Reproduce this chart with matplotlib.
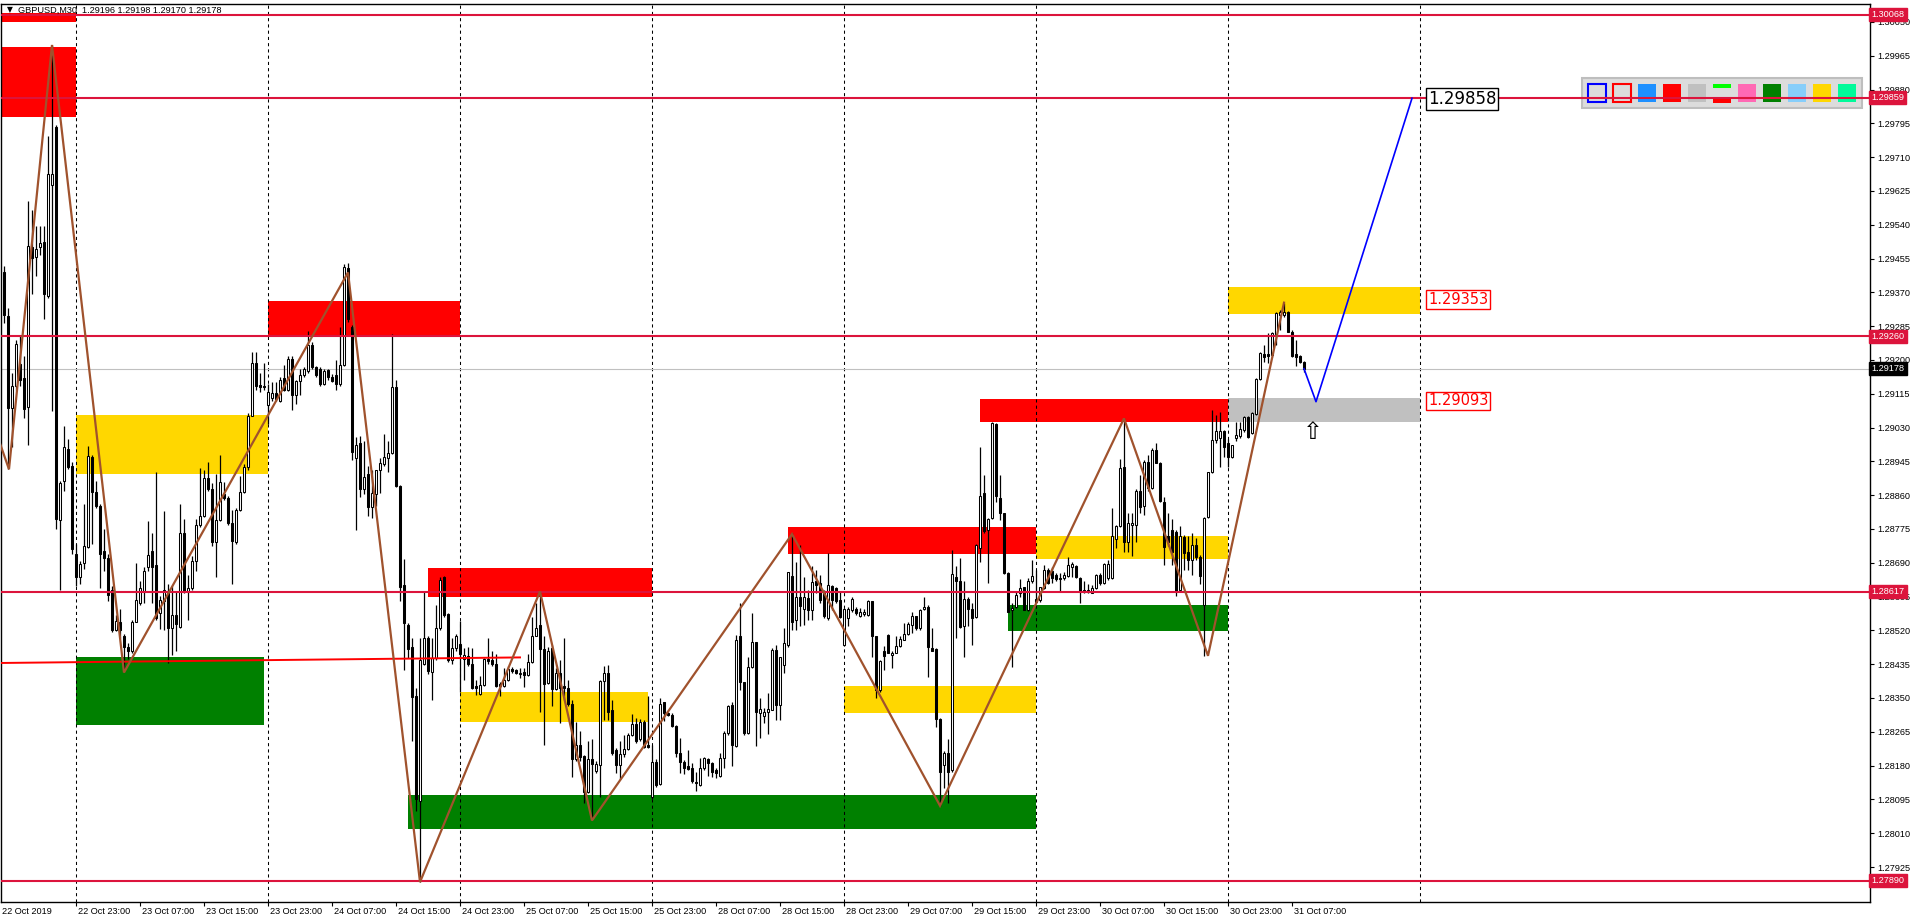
import matplotlib
matplotlib.use("Agg")
import matplotlib.pyplot as plt
import matplotlib.transforms as mtransforms
from matplotlib.patches import Rectangle
import numpy as np

FIG_W, FIG_H = 1916, 923

# GBPUSD M30 candles, bar 0 = 22 Oct 14:00
opens = [
    1.29420, 1.29311, 1.29080, 1.29135, 1.29190, 1.29154, 1.29082, 1.29484, 1.29460, 1.29484,
    1.29497, 1.29362, 1.29639, 1.29785, 1.28798, 1.28896, 1.28976, 1.28934, 1.28713, 1.28653,
    1.28690, 1.28730, 1.28957, 1.28868, 1.28833, 1.28720, 1.28701, 1.28621, 1.28521, 1.28542,
    1.28507, 1.28479, 1.28468, 1.28542, 1.28590, 1.28618, 1.28680, 1.28720, 1.28685, 1.28563,
    1.28595, 1.28614, 1.28526, 1.28558, 1.28529, 1.28764, 1.28616, 1.28627, 1.28695, 1.28785,
    1.28807, 1.28904, 1.28875, 1.28743, 1.28798, 1.28862, 1.28854, 1.28791, 1.28741, 1.28822,
    1.28868, 1.28931, 1.29060, 1.29193, 1.29137, 1.29135, 1.29087, 1.29105, 1.29116, 1.29098,
    1.29154, 1.29124, 1.29203, 1.29111, 1.29147, 1.29161, 1.29172, 1.29237, 1.29182, 1.29177,
    1.29140, 1.29174, 1.29158, 1.29161, 1.29140, 1.29188, 1.29432, 1.29284, 1.28954, 1.28990,
    1.28875, 1.28914, 1.28830, 1.28863, 1.28922, 1.28939, 1.28954, 1.28966, 1.29132, 1.28883,
    1.28634, 1.28533, 1.28477, 1.28355, 1.28091, 1.28436, 1.28500, 1.28416, 1.28451, 1.28525,
    1.28654, 1.28560, 1.28446, 1.28475, 1.28485, 1.28448, 1.28456, 1.28436, 1.28380, 1.28360,
    1.28383, 1.28448, 1.28446, 1.28436, 1.28385, 1.28380, 1.28395, 1.28424, 1.28421, 1.28411,
    1.28416, 1.28408, 1.28441, 1.28507, 1.28533, 1.28472, 1.28387, 1.28475, 1.28373, 1.28414,
    1.28380, 1.28375, 1.28336, 1.28197, 1.28233, 1.28204, 1.28113, 1.28197, 1.28167, 1.28182,
    1.28393, 1.28414, 1.28319, 1.28218, 1.28182, 1.28210, 1.28221, 1.28258, 1.28284, 1.28248,
    1.28289, 1.28233, 1.28101, 1.28190, 1.28133, 1.28340, 1.28312, 1.28308, 1.28280, 1.28211,
    1.28188, 1.28179, 1.28174, 1.28138, 1.28132, 1.28174, 1.28196, 1.28186, 1.28169, 1.28153,
    1.28199, 1.28262, 1.28333, 1.28230, 1.28505, 1.28389, 1.28262, 1.28428, 1.28490, 1.28312,
    1.28305, 1.28316, 1.28320, 1.28471, 1.28333, 1.28433, 1.28484, 1.28657, 1.28547, 1.28604,
    1.28573, 1.28601, 1.28572, 1.28645, 1.28639, 1.28618, 1.28551, 1.28632, 1.28626, 1.28597,
    1.28484, 1.28551, 1.28570, 1.28573, 1.28557, 1.28562, 1.28559, 1.28593, 1.28505, 1.28369,
    1.28467, 1.28509, 1.28459, 1.28464, 1.28480, 1.28496, 1.28510, 1.28534, 1.28555, 1.28526,
    1.28573, 1.28580, 1.28475, 1.28473, 1.28297, 1.28182, 1.28211, 1.28169, 1.28655, 1.28645,
    1.28532, 1.28600, 1.28573, 1.28553, 1.28727, 1.28865, 1.28773, 1.28802, 1.29039, 1.28852,
    1.28814, 1.28665, 1.28571, 1.28578, 1.28613, 1.28628, 1.28571, 1.28643, 1.28598, 1.28597,
    1.28626, 1.28672, 1.28670, 1.28659, 1.28651, 1.28651, 1.28657, 1.28680, 1.28682, 1.28651,
    1.28622, 1.28617, 1.28615, 1.28626, 1.28659, 1.28638, 1.28651, 1.28651, 1.28749, 1.28783,
    1.28930, 1.28743, 1.28785, 1.28785, 1.28871, 1.28833, 1.28944, 1.28877, 1.28974, 1.28942,
    1.28844, 1.28757, 1.28772, 1.28768, 1.28622, 1.28756, 1.28718, 1.28697, 1.28735, 1.28705,
    1.28584, 1.28804, 1.28917, 1.28999, 1.29003, 1.29021, 1.28990, 1.28955, 1.29003, 1.29009,
    1.29024, 1.29057, 1.29016, 1.29064, 1.29151, 1.29215, 1.29215, 1.29212, 1.29265, 1.29313,
    1.29313, 1.29321, 1.29271, 1.29215, 1.29210, 1.29196,
]
highs = [
    1.29436, 1.29330, 1.29166, 1.29251, 1.29262, 1.29209, 1.29600, 1.29577, 1.29537, 1.29537,
    1.29537, 1.29764, 1.29992, 1.29790, 1.28896, 1.29034, 1.29002, 1.28944, 1.28738, 1.28695,
    1.28838, 1.28983, 1.28960, 1.28896, 1.28838, 1.28775, 1.28711, 1.28632, 1.28558, 1.28574,
    1.28510, 1.28489, 1.28547, 1.28690, 1.28643, 1.28680, 1.28796, 1.28766, 1.28918, 1.28606,
    1.28819, 1.28637, 1.28632, 1.28616, 1.28838, 1.28801, 1.28658, 1.28706, 1.28801, 1.28928,
    1.28923, 1.28944, 1.28891, 1.28912, 1.28960, 1.28893, 1.28859, 1.28822, 1.28828, 1.28907,
    1.28939, 1.29066, 1.29219, 1.29219, 1.29166, 1.29193, 1.29140, 1.29145, 1.29145, 1.29156,
    1.29187, 1.29209, 1.29209, 1.29150, 1.29177, 1.29182, 1.29272, 1.29246, 1.29185, 1.29182,
    1.29177, 1.29177, 1.29164, 1.29200, 1.29283, 1.29440, 1.29445, 1.29289, 1.29005, 1.29010,
    1.28995, 1.28934, 1.28924, 1.28924, 1.28954, 1.29013, 1.28995, 1.29264, 1.29149, 1.28885,
    1.28700, 1.28538, 1.28502, 1.28375, 1.28502, 1.28619, 1.28507, 1.28502, 1.28583, 1.28654,
    1.28657, 1.28563, 1.28502, 1.28512, 1.28543, 1.28475, 1.28477, 1.28475, 1.28395, 1.28406,
    1.28451, 1.28502, 1.28469, 1.28461, 1.28390, 1.28426, 1.28431, 1.28428, 1.28424, 1.28426,
    1.28426, 1.28461, 1.28553, 1.28588, 1.28619, 1.28507, 1.28477, 1.28482, 1.28426, 1.28446,
    1.28502, 1.28395, 1.28345, 1.28289, 1.28268, 1.28207, 1.28243, 1.28248, 1.28192, 1.28395,
    1.28431, 1.28434, 1.28345, 1.28223, 1.28243, 1.28258, 1.28261, 1.28309, 1.28299, 1.28296,
    1.28294, 1.28355, 1.28233, 1.28197, 1.28350, 1.28341, 1.28314, 1.28312, 1.28283, 1.28249,
    1.28195, 1.28220, 1.28186, 1.28165, 1.28199, 1.28201, 1.28199, 1.28188, 1.28174, 1.28211,
    1.28266, 1.28333, 1.28341, 1.28509, 1.28588, 1.28391, 1.28454, 1.28563, 1.28492, 1.28350,
    1.28324, 1.28362, 1.28475, 1.28484, 1.28454, 1.28526, 1.28668, 1.28764, 1.28693, 1.28735,
    1.28655, 1.28622, 1.28681, 1.28672, 1.28660, 1.28622, 1.28714, 1.28635, 1.28630, 1.28618,
    1.28576, 1.28580, 1.28605, 1.28580, 1.28576, 1.28573, 1.28597, 1.28594, 1.28506, 1.28446,
    1.28481, 1.28510, 1.28467, 1.28505, 1.28505, 1.28538, 1.28542, 1.28565, 1.28557, 1.28573,
    1.28605, 1.28584, 1.28526, 1.28475, 1.28299, 1.28216, 1.28247, 1.28722, 1.28681, 1.28702,
    1.28643, 1.28603, 1.28588, 1.28738, 1.28982, 1.28911, 1.28802, 1.29045, 1.29041, 1.28911,
    1.28816, 1.28668, 1.28588, 1.28618, 1.28648, 1.28630, 1.28651, 1.28697, 1.28672, 1.28630,
    1.28685, 1.28676, 1.28679, 1.28664, 1.28664, 1.28668, 1.28705, 1.28693, 1.28685, 1.28653,
    1.28643, 1.28637, 1.28634, 1.28662, 1.28664, 1.28690, 1.28697, 1.28827, 1.28785, 1.28950,
    1.29053, 1.28814, 1.28814, 1.28875, 1.28911, 1.28949, 1.28961, 1.28978, 1.28990, 1.28944,
    1.28856, 1.28814, 1.28799, 1.28773, 1.28783, 1.28760, 1.28757, 1.28764, 1.28752, 1.28710,
    1.28804, 1.28919, 1.29074, 1.29062, 1.29070, 1.29024, 1.29000, 1.28986, 1.29045, 1.29045,
    1.29059, 1.29059, 1.29070, 1.29154, 1.29221, 1.29238, 1.29267, 1.29271, 1.29321, 1.29326,
    1.29344, 1.29324, 1.29275, 1.29250, 1.29212, 1.29198,
]
lows = [
    1.29293, 1.28925, 1.28981, 1.29124, 1.29135, 1.29055, 1.28986, 1.29367, 1.29410, 1.29463,
    1.29304, 1.29357, 1.29071, 1.28775, 1.28621, 1.28870, 1.28925, 1.28711, 1.28632, 1.28637,
    1.28674, 1.28727, 1.28738, 1.28828, 1.28627, 1.28669, 1.28595, 1.28516, 1.28519, 1.28500,
    1.28420, 1.28447, 1.28463, 1.28540, 1.28584, 1.28590, 1.28669, 1.28590, 1.28547, 1.28523,
    1.28521, 1.28438, 1.28457, 1.28468, 1.28526, 1.28614, 1.28547, 1.28621, 1.28669, 1.28780,
    1.28804, 1.28870, 1.28733, 1.28653, 1.28796, 1.28849, 1.28785, 1.28637, 1.28738, 1.28819,
    1.28865, 1.28923, 1.29058, 1.29124, 1.29119, 1.29124, 1.29039, 1.29098, 1.29098, 1.29094,
    1.29122, 1.29122, 1.29073, 1.29090, 1.29113, 1.29156, 1.29166, 1.29177, 1.29156, 1.29135,
    1.29137, 1.29150, 1.29145, 1.29124, 1.29135, 1.29186, 1.29295, 1.28949, 1.28773, 1.28855,
    1.28863, 1.28807, 1.28802, 1.28832, 1.28865, 1.28934, 1.28919, 1.28964, 1.28881, 1.28594,
    1.28421, 1.28451, 1.28243, 1.28065, 1.27887, 1.28434, 1.28411, 1.28345, 1.28446, 1.28522,
    1.28553, 1.28441, 1.28436, 1.28469, 1.28365, 1.28395, 1.28431, 1.28373, 1.28357, 1.28357,
    1.28380, 1.28436, 1.28431, 1.28377, 1.28355, 1.28377, 1.28393, 1.28414, 1.28411, 1.28400,
    1.28377, 1.28405, 1.28438, 1.28505, 1.28316, 1.28233, 1.28385, 1.28329, 1.28370, 1.28286,
    1.28345, 1.28329, 1.28152, 1.28192, 1.28192, 1.28085, 1.28111, 1.28042, 1.28162, 1.28101,
    1.28294, 1.28294, 1.28207, 1.28162, 1.28146, 1.28202, 1.28218, 1.28255, 1.28238, 1.28243,
    1.28223, 1.28223, 1.28096, 1.28126, 1.28131, 1.28291, 1.28304, 1.28277, 1.28201, 1.28161,
    1.28159, 1.28169, 1.28136, 1.28115, 1.28129, 1.28169, 1.28153, 1.28151, 1.28148, 1.28151,
    1.28174, 1.28257, 1.28178, 1.28228, 1.28371, 1.28257, 1.28260, 1.28425, 1.28230, 1.28249,
    1.28287, 1.28260, 1.28319, 1.28295, 1.28295, 1.28412, 1.28479, 1.28521, 1.28521, 1.28530,
    1.28534, 1.28547, 1.28547, 1.28614, 1.28588, 1.28551, 1.28547, 1.28572, 1.28588, 1.28551,
    1.28481, 1.28530, 1.28567, 1.28559, 1.28553, 1.28557, 1.28555, 1.28453, 1.28351, 1.28366,
    1.28421, 1.28463, 1.28425, 1.28463, 1.28478, 1.28495, 1.28509, 1.28513, 1.28521, 1.28521,
    1.28572, 1.28402, 1.28469, 1.28277, 1.28079, 1.28123, 1.28086, 1.28165, 1.28500, 1.28526,
    1.28453, 1.28530, 1.28484, 1.28551, 1.28691, 1.28764, 1.28639, 1.28800, 1.28844, 1.28798,
    1.28662, 1.28565, 1.28427, 1.28576, 1.28605, 1.28570, 1.28569, 1.28638, 1.28590, 1.28592,
    1.28623, 1.28637, 1.28640, 1.28643, 1.28618, 1.28647, 1.28655, 1.28655, 1.28651, 1.28588,
    1.28613, 1.28613, 1.28613, 1.28623, 1.28634, 1.28637, 1.28647, 1.28648, 1.28726, 1.28781,
    1.28718, 1.28718, 1.28707, 1.28743, 1.28814, 1.28810, 1.28871, 1.28875, 1.28940, 1.28844,
    1.28685, 1.28731, 1.28685, 1.28607, 1.28618, 1.28672, 1.28672, 1.28659, 1.28697, 1.28637,
    1.28456, 1.28802, 1.28915, 1.28990, 1.28932, 1.28957, 1.28932, 1.28953, 1.28995, 1.29003,
    1.29020, 1.29003, 1.29014, 1.29062, 1.29150, 1.29196, 1.29192, 1.29208, 1.29238, 1.29275,
    1.29309, 1.29269, 1.29208, 1.29185, 1.29192, 1.29170,
]
closes = [
    1.29314, 1.29080, 1.29135, 1.29240, 1.29150, 1.29076, 1.29486, 1.29457, 1.29480, 1.29494,
    1.29365, 1.29667, 1.29667, 1.28801, 1.28891, 1.28981, 1.28931, 1.28724, 1.28653, 1.28687,
    1.28733, 1.28958, 1.28868, 1.28833, 1.28711, 1.28701, 1.28608, 1.28521, 1.28544, 1.28521,
    1.28479, 1.28468, 1.28542, 1.28597, 1.28627, 1.28669, 1.28709, 1.28680, 1.28551, 1.28597,
    1.28621, 1.28526, 1.28558, 1.28537, 1.28764, 1.28616, 1.28627, 1.28695, 1.28785, 1.28807,
    1.28904, 1.28875, 1.28743, 1.28798, 1.28893, 1.28854, 1.28791, 1.28745, 1.28822, 1.28868,
    1.28931, 1.29060, 1.29193, 1.29135, 1.29132, 1.29131, 1.29119, 1.29116, 1.29103, 1.29150,
    1.29124, 1.29203, 1.29111, 1.29147, 1.29161, 1.29177, 1.29237, 1.29182, 1.29161, 1.29140,
    1.29172, 1.29156, 1.29147, 1.29140, 1.29187, 1.29434, 1.29302, 1.28969, 1.28985, 1.28875,
    1.28906, 1.28830, 1.28865, 1.28922, 1.28941, 1.28956, 1.28966, 1.29132, 1.28883, 1.28629,
    1.28538, 1.28472, 1.28352, 1.28096, 1.28446, 1.28500, 1.28418, 1.28451, 1.28525, 1.28647,
    1.28558, 1.28446, 1.28475, 1.28507, 1.28461, 1.28458, 1.28436, 1.28375, 1.28375, 1.28383,
    1.28448, 1.28444, 1.28436, 1.28380, 1.28380, 1.28395, 1.28424, 1.28418, 1.28414, 1.28414,
    1.28408, 1.28441, 1.28507, 1.28527, 1.28472, 1.28385, 1.28469, 1.28373, 1.28414, 1.28375,
    1.28375, 1.28334, 1.28197, 1.28233, 1.28202, 1.28113, 1.28197, 1.28184, 1.28184, 1.28393,
    1.28414, 1.28316, 1.28212, 1.28182, 1.28210, 1.28221, 1.28258, 1.28284, 1.28243, 1.28289,
    1.28228, 1.28228, 1.28190, 1.28131, 1.28336, 1.28312, 1.28307, 1.28280, 1.28211, 1.28190,
    1.28174, 1.28171, 1.28140, 1.28136, 1.28174, 1.28199, 1.28186, 1.28165, 1.28161, 1.28199,
    1.28262, 1.28329, 1.28232, 1.28496, 1.28389, 1.28262, 1.28428, 1.28490, 1.28314, 1.28322,
    1.28316, 1.28322, 1.28471, 1.28333, 1.28453, 1.28488, 1.28668, 1.28542, 1.28605, 1.28582,
    1.28604, 1.28572, 1.28642, 1.28635, 1.28597, 1.28557, 1.28635, 1.28597, 1.28595, 1.28553,
    1.28573, 1.28573, 1.28600, 1.28563, 1.28567, 1.28565, 1.28594, 1.28505, 1.28369, 1.28442,
    1.28456, 1.28464, 1.28464, 1.28480, 1.28498, 1.28510, 1.28536, 1.28555, 1.28526, 1.28572,
    1.28580, 1.28478, 1.28469, 1.28297, 1.28163, 1.28211, 1.28165, 1.28662, 1.28645, 1.28528,
    1.28599, 1.28573, 1.28551, 1.28735, 1.28858, 1.28769, 1.28800, 1.29041, 1.28857, 1.28815,
    1.28665, 1.28567, 1.28576, 1.28609, 1.28626, 1.28571, 1.28645, 1.28657, 1.28592, 1.28628,
    1.28672, 1.28640, 1.28651, 1.28648, 1.28648, 1.28659, 1.28685, 1.28687, 1.28653, 1.28617,
    1.28617, 1.28622, 1.28626, 1.28659, 1.28638, 1.28687, 1.28687, 1.28757, 1.28783, 1.28928,
    1.28743, 1.28791, 1.28789, 1.28871, 1.28831, 1.28944, 1.28877, 1.28974, 1.28942, 1.28846,
    1.28729, 1.28743, 1.28718, 1.28620, 1.28757, 1.28714, 1.28697, 1.28735, 1.28704, 1.28657,
    1.28802, 1.28917, 1.28999, 1.29021, 1.29021, 1.28982, 1.28955, 1.28985, 1.29011, 1.29026,
    1.29057, 1.29007, 1.29067, 1.29151, 1.29217, 1.29208, 1.29210, 1.29267, 1.29317, 1.29321,
    1.29321, 1.29271, 1.29210, 1.29208, 1.29196, 1.29178,
]

# time axis labels (bar index -> text)
tick_bars = [18, 34, 50, 66, 82, 98, 114, 130, 146, 162, 178, 194, 210, 226, 242, 258, 274, 290, 306, 322]
tick_texts = ["22 Oct 23:00", "23 Oct 07:00", "23 Oct 15:00", "23 Oct 23:00", "24 Oct 07:00",
              "24 Oct 15:00", "24 Oct 23:00", "25 Oct 07:00", "25 Oct 15:00", "25 Oct 23:00",
              "28 Oct 07:00", "28 Oct 15:00", "28 Oct 23:00", "29 Oct 07:00", "29 Oct 15:00",
              "29 Oct 23:00", "30 Oct 07:00", "30 Oct 15:00", "30 Oct 23:00", "31 Oct 07:00"]
sep_bars = [18, 66, 114, 162, 210, 258, 306, 354]

levels = [1.30068, 1.29859, 1.29260, 1.28617, 1.27890]
last_price = 1.29178
trend_bars = [-1, 129]
trend_prices = [1.28438, 1.28452]

# zones: (bar from, bar to, low, high)
red_zones = [(-1, 18, 1.30050, 1.30073), (-1, 18, 1.29810, 1.29986), (66, 114, 1.29260, 1.29348),
             (106, 162, 1.28603, 1.28678), (196, 258, 1.28713, 1.28780), (244, 306, 1.29045, 1.29101)]
gold_zones = [(18, 66, 1.28914, 1.29062), (114, 161, 1.28290, 1.28366), (210, 258, 1.28313, 1.28380),
              (258, 306, 1.28700, 1.28757), (306, 354, 1.29315, 1.29384)]
green_zones = [(18, 65, 1.28282, 1.28452), (101, 258, 1.28020, 1.28105), (251, 306, 1.28519, 1.28584)]
grey_zones = [(306, 354, 1.29045, 1.29105)]

zz_bars = [-1, 1.25, 12, 30, 86, 104, 134, 147, 197, 234, 280, 301, 320]
zz_prices = [1.28990, 1.28925, 1.29992, 1.28414, 1.29420, 1.27887, 1.28618, 1.28042, 1.28762,
             1.28079, 1.29053, 1.28456, 1.29344]
proj_bars = [325, 328, 352]
proj_prices = [1.29178, 1.29095, 1.29858]

CRIMSON = "#DC143C"
fig = plt.figure(figsize=(FIG_W / 100, FIG_H / 100), dpi=100)
fig.patch.set_facecolor("white")
ax = fig.add_axes([1 / FIG_W, 21 / FIG_H, 1869 / FIG_W, 898 / FIG_H])
ax.set_xlim(-0.75, 466.5)
ax.set_ylim(1.27837, 1.30095)
for s in ax.spines.values():
    s.set_color("black")
    s.set_linewidth(1)

def zones(lst, color):
    for x0, x1, lo, hi in lst:
        ax.add_patch(Rectangle((x0, lo), x1 - x0, hi - lo, facecolor=color, edgecolor="none", zorder=1))

zones(red_zones, "#FF0000")
zones(gold_zones, "#FFD700")
zones(green_zones, "#008000")
zones(grey_zones, "#C0C0C0")

ax.vlines(sep_bars, 1.27837, 1.30095, colors="black", linestyles=(0, (3, 3)), linewidth=0.75, zorder=2)
ax.axhline(last_price, color="#C0C0C0", linewidth=0.8, zorder=2)

# candles
o = np.array(opens); h = np.array(highs); l = np.array(lows); c = np.array(closes)
x = np.arange(len(o))
ax.vlines(x, l, h, colors="black", linewidth=0.9, zorder=3)
bull = c >= o
ax.bar(x[bull], (c - o)[bull], bottom=o[bull], width=0.62, color="white", edgecolor="black", linewidth=0.75, zorder=3.5)
ax.bar(x[~bull], (c - o)[~bull], bottom=o[~bull], width=0.62, color="black", edgecolor="black", linewidth=0.75, zorder=3.5)

for lv in levels:
    ax.axhline(lv, color=CRIMSON, linewidth=1.5, zorder=5)
ax.plot(trend_bars, trend_prices, color="#FF0000", linewidth=1.4, zorder=5)
ax.plot(zz_bars, zz_prices, color="#A0522D", linewidth=1.6, zorder=6, solid_joinstyle="miter")
ax.plot(proj_bars, proj_prices, color="#0000FF", linewidth=1.2, zorder=6)
ax.text(327.3, 1.29019, "\u21e7", fontsize=17, ha="center", va="center", color="black", zorder=7)

# labels in the future area
ax.text(356, 1.29855, "1.29858", fontsize=12, ha="left", va="center", color="black", zorder=7,
        bbox=dict(boxstyle="square,pad=0.12", fc="white", ec="black", lw=1))
ax.text(356, 1.29352, "1.29353", fontsize=10.5, ha="left", va="center", color="#FF0000", zorder=7,
        bbox=dict(boxstyle="square,pad=0.12", fc="white", ec="#FF0000", lw=1))
ax.text(356, 1.29097, "1.29093", fontsize=10.5, ha="left", va="center", color="#FF0000", zorder=7,
        bbox=dict(boxstyle="square,pad=0.12", fc="white", ec="#FF0000", lw=1))

# right price axis
yt = [1.30050 - k * 0.00085 for k in range(26)]
ax.yaxis.tick_right()
ax.set_yticks(yt)
ax.set_yticklabels(["%.5f" % v for v in yt], fontsize=6.6, family="Liberation Sans")
ax.tick_params(axis="y", length=3, width=0.8, pad=2, colors="black")
ax.set_xticks(tick_bars)
ax.set_xticklabels([])
ax.tick_params(axis="x", length=3, width=0.8, direction="out")

btr = mtransforms.blended_transform_factory(ax.transAxes, ax.transData)
for lv in levels:
    ax.text(1.0008, lv, "%.5f" % lv, transform=btr, fontsize=6.6, family="Liberation Sans", color="white",
            ha="left", va="center", zorder=10, clip_on=False,
            bbox=dict(boxstyle="square,pad=0.22", fc=CRIMSON, ec=CRIMSON))
ax.text(1.0008, last_price, "%.5f" % last_price, transform=btr, fontsize=6.6, family="Liberation Sans",
        color="white", ha="left", va="center", zorder=10, clip_on=False,
        bbox=dict(boxstyle="square,pad=0.22", fc="black", ec="black"))

# time labels
xtr = mtransforms.blended_transform_factory(ax.transData, fig.transFigure)
ax.text(2 / FIG_W, 11 / FIG_H, "22 Oct 2019", transform=fig.transFigure, fontsize=6.6,
        family="Liberation Sans", ha="left", va="center")
for b, t in zip(tick_bars, tick_texts):
    ax.text(b + 0.6, 11 / FIG_H, t, transform=xtr, fontsize=6.6, family="Liberation Sans",
            ha="left", va="center", clip_on=False)

# header
fig.text(7 / FIG_W, 1 - 10 / FIG_H, "\u25bc", fontsize=5.5, ha="left", va="center", color="black")
fig.text(18 / FIG_W, 1 - 10 / FIG_H, "GBPUSD,M30  1.29196 1.29198 1.29170 1.29178", fontsize=6.6,
         family="Liberation Sans", ha="left", va="center", color="black")

# colour toolbar
def fr(px, py, w, hh, fc, ec="none", lw=0):
    ax.add_patch(Rectangle((px / FIG_W, 1 - (py + hh) / FIG_H), w / FIG_W, hh / FIG_H,
                           transform=fig.transFigure, facecolor=fc, edgecolor=ec, linewidth=lw,
                           zorder=4.5, clip_on=False))

fr(1582, 78, 280, 30, "#DCDCDC", "#BEBEBE", 1.5)
swatches = ["#1E90FF", "#FF0000", "#C0C0C0", None, "#FF69B4", "#008000", "#87CEFA", "#FFD700", "#00FA9A"]
fr(1588, 84, 18, 18, "none", "#0000FF", 1.5)
fr(1613, 84, 18, 18, "none", "#FF0000", 1.5)
for k, col in enumerate(swatches):
    x0 = 1638 + 25 * k
    if col is None:
        fr(x0, 84, 18, 4, "#00FF00")
        fr(x0, 98, 18, 5, "#FF0000")
    else:
        fr(x0, 84, 18, 18, col)

fig.savefig("out.png", dpi=100, facecolor="white")
